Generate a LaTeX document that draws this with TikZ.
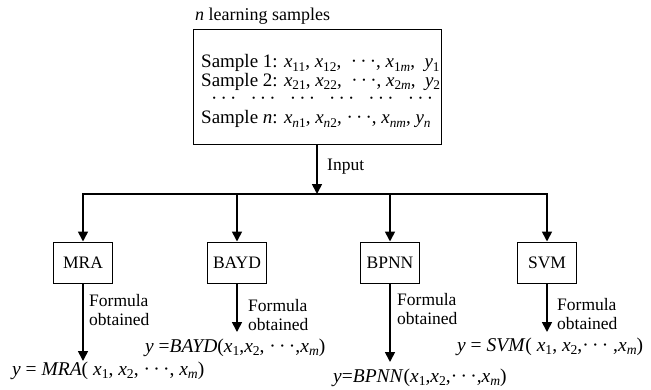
\documentclass[tikz,border=0pt]{standalone}
\usepackage{fontspec}
\setmainfont{Liberation Serif}
\usetikzlibrary{arrows.meta}

\newcommand{\subs}[1]{\raisebox{-0.2em}{\fontsize{0.7em}{1em}\selectfont#1}}
\newcommand{\xv}[1]{\textit{x}\subs{#1}}
\newcommand{\yv}[1]{\textit{y}\subs{#1}}
\newcommand{\dts}{\textperiodcentered\,\textperiodcentered\,\textperiodcentered}

\begin{document}
\begin{tikzpicture}[x=1pt,y=-1pt,
    font=\fontsize{17.5}{18.7}\selectfont,
    box/.style={draw,line width=1pt,minimum width=59pt,minimum height=41pt,inner sep=0pt},
    arr/.style={line width=1.7pt,-{Triangle[length=10pt,width=10pt]}},
    lab/.style={align=left,anchor=north west,inner sep=0pt},
    formula/.style={anchor=base west,inner sep=0pt,font=\fontsize{19.5}{20}\selectfont}]
  \useasboundingbox (0,0) rectangle (651,389);

  % Learning samples
  \node[anchor=base west,inner sep=0pt,font=\fontsize{18}{19}\selectfont] (title) at (195,20) {\textit{n} learning samples};
  \node[draw,line width=1pt,minimum width=248pt,minimum height=115pt] (samples) at (317,86.5) {};
  \node[lab,font=\fontsize{19}{18.8}\selectfont] (rows) at (201,54) {%
    Sample 1: \xv{11}, \xv{12}, \ \dts, \xv{1\textit{m}}, \ \yv{1}\\
    Sample 2: \xv{21}, \xv{22}, \ \dts, \xv{2\textit{m}}, \ \yv{2}\\
    \hspace*{10pt}\dts\hspace{14pt}\dts\hspace{14pt}\dts\hspace{14pt}\dts\hspace{14pt}\dts\hspace{14pt}\dts\\
    Sample \textit{n}: \xv{\textit{n}1}, \xv{\textit{n}2}, \dts, \xv{\textit{nm}}, \yv{\textit{n}}};

  % Input and bus
  \coordinate (busin) at (317,194);
  \draw[arr] (samples.south) -- (busin);
  \node[anchor=base west,inner sep=0pt] (input) at (327,170) {Input};

  % Methods
  \node[box] (mra) at (83,262.5) {MRA};
  \node[box] (bayd) at (237,262.5) {BAYD};
  \node[box] (bpnn) at (390,262.5) {BPNN};
  \node[box] (svm) at (547,262.5) {SVM};

  \draw[line width=2.6pt,line cap=rect] (mra.north |- busin) -- (svm.north |- busin);
  \foreach \m in {mra,bayd,bpnn,svm}
    \draw[arr] (\m.north |- busin) -- (\m.north);

  % Formulas obtained
  \node[formula] (fmra) at (12,375)
    {\textit{y} = \textit{MRA}( \xv{1}, \xv{2}, \dts, \xv{\textit{m}})};
  \node[formula] (fbayd) at (145,352)
    {\textit{y} =\textit{BAYD}(\xv{1},\xv{2}, \dts,\xv{\textit{m}})};
  \node[formula] (fbpnn) at (333,382)
    {\textit{y}=\textit{BPNN}(\xv{1},\xv{2},\dts,\xv{\textit{m}})};
  \node[formula] (fsvm) at (457,351)
    {\textit{y} = \textit{SVM}( \xv{1}, \xv{2},\dts\ ,\xv{\textit{m}})};

  \coordinate (tmra) at (83,361);
  \coordinate (tbayd) at (237,332);
  \coordinate (tbpnn) at (390,362);
  \coordinate (tsvm) at (547,332);
  \foreach \m in {mra,bayd,bpnn,svm}
    \draw[arr] (\m.south) -- (t\m);

  \node[lab] (lmra) at (89,294) {Formula\\obtained};
  \node[lab] (lbayd) at (248,299) {Formula\\obtained};
  \node[lab] (lbpnn) at (397,293) {Formula\\obtained};
  \node[lab] (lsvm) at (557,298) {Formula\\obtained};
\end{tikzpicture}
\end{document}
